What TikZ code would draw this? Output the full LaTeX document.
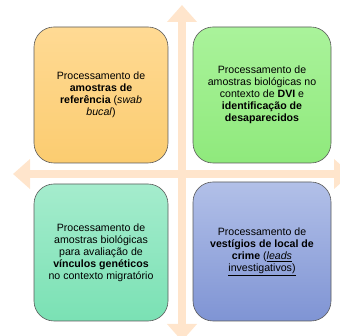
\documentclass[tikz,border=0pt]{standalone}
\usepackage{fontspec}
\setmainfont{Liberation Sans}
\usetikzlibrary{arrows.meta}
\definecolor{arrowc}{RGB}{255,229,204}
\definecolor{edgec}{RGB}{90,90,90}
\tikzset{
  x=1pt, y=-1pt,
  bigarrow/.style={draw=arrowc, line width=8pt,
    arrows={Triangle[width=29pt,length=17pt,fill=arrowc]-Triangle[width=29pt,length=17pt,fill=arrowc]}},
  quad/.style={draw=edgec, line width=0.6pt, rounded corners=20pt, shading=axis, shading angle=0,
    minimum width=#1, align=center, inner sep=0pt,
    font=\fontsize{10.6}{12}\selectfont},
}
\begin{document}
\begin{tikzpicture}
\useasboundingbox (0,0) rectangle (340,336);
\coordinate (vtop) at (182,5);
\coordinate (vbot) at (182,341);
\coordinate (hleft) at (13,174);
\coordinate (hright) at (351,174);
\draw[bigarrow] (vtop) -- (vbot);
\draw[bigarrow] (hleft) -- (hright);
\node[quad=134pt, minimum height=136pt, top color={rgb,255:red,255;green,218;blue,148}, bottom color={rgb,255:red,251;green,204;blue,112}] (tl) at (101,95)
  {Processamento de\\ \textbf{amostras de}\\ \textbf{referência} (\textit{swab}\\ \textit{bucal})};
\node[quad=138pt, minimum height=136pt, top color={rgb,255:red,170;green,243;blue,155}, bottom color={rgb,255:red,143;green,233;blue,124}] (tr) at (262,95)
  {Processamento de\\ amostras biológicas no\\ contexto de \textbf{DVI} e\\ \textbf{identificação de}\\ \textbf{desaparecidos}};
\node[quad=134pt, minimum height=137pt, top color={rgb,255:red,165;green,236;blue,205}, bottom color={rgb,255:red,122;green,225;blue,180}] (bl) at (101,252.5)
  {Processamento de\\ amostras biológicas\\ para avaliação de\\ \textbf{vínculos genéticos}\\ no contexto migratório};
\node[quad=138pt, minimum height=139pt, top color={rgb,255:red,178;green,192;blue,232}, bottom color={rgb,255:red,127;green,148;blue,212}] (br) at (262,251.5)
  {Processamento de\\ \textbf{vestígios de local de}\\ \textbf{crime} (\underline{\textit{leads}}\\ \underline{investigativos)}};
\end{tikzpicture}
\end{document}
